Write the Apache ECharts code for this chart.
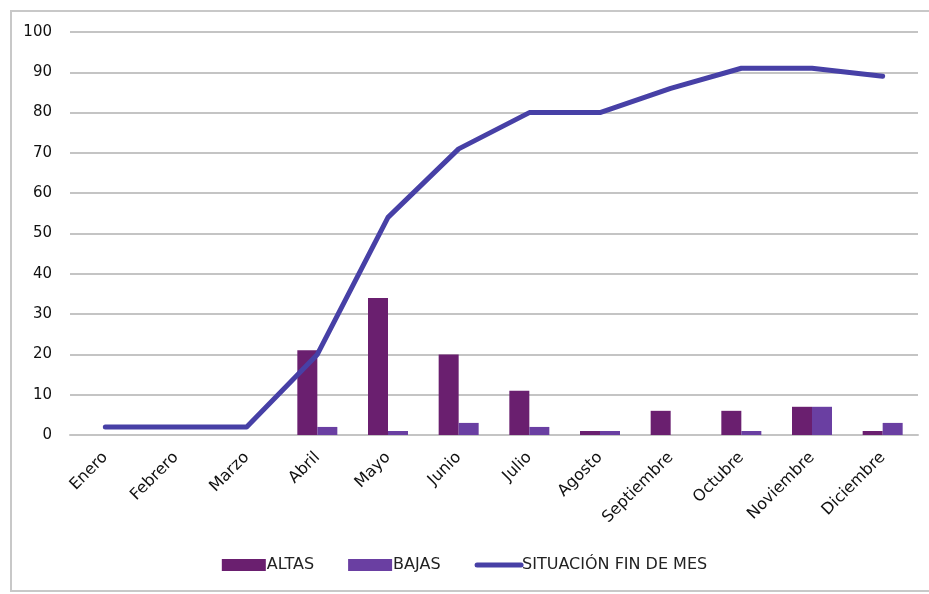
<!DOCTYPE html>
<html>
<head>
<meta charset="utf-8">
<script src="https://cdn.jsdelivr.net/npm/echarts@6/dist/echarts.min.js"></script>
<style>
  html, body { margin: 0; padding: 0; background: #ffffff; }
  #frame { position: absolute; left: 10px; top: 10px; width: 930px; height: 582px; border: 2px solid #c8c8c8; box-sizing: border-box; }
  #chart { position: absolute; left: 0; top: 0; width: 929px; height: 594px; }
</style>
</head>
<body>
<div id="frame"></div>
<div id="chart"></div>
<script>
// Monthly figures
const months = ['Enero', 'Febrero', 'Marzo', 'Abril', 'Mayo', 'Junio', 'Julio', 'Agosto', 'Septiembre', 'Octubre', 'Noviembre', 'Diciembre'];
const altas = [0, 0, 0, 21, 34, 20, 11, 1, 6, 6, 7, 1];
const bajas = [0, 0, 0, 2, 1, 3, 2, 1, 0, 1, 7, 3];
const situacion = [2, 2, 2, 20, 54, 71, 80, 80, 86, 91, 91, 89];
const yTicks = [0, 10, 20, 30, 40, 50, 60, 70, 80, 90, 100];

const font = '"DejaVu Sans", sans-serif';
const lineColor = '#4740a6';
const chart = echarts.init(document.getElementById('chart'));
chart.setOption({
  animation: false,
  backgroundColor: 'transparent',
  textStyle: { fontFamily: font },
  grid: { left: 70, right: 11, top: 32, bottom: 159 },
  legend: {
    bottom: 16,
    left: 'center',
    itemGap: 34,
    itemWidth: 44,
    itemHeight: 12,
    textStyle: { fontFamily: font, fontSize: 16, color: '#222', padding: [0, 0, 0, -4] },
    data: [
      { name: 'ALTAS', icon: 'rect' },
      { name: 'BAJAS', icon: 'rect' },
      {
        name: 'SITUACIÓN FIN DE MES',
        itemStyle: { opacity: 0 },
        lineStyle: { color: lineColor, width: 5, cap: 'round' }
      }
    ]
  },
  xAxis: {
    type: 'category',
    data: months,
    axisLine: { show: true, lineStyle: { color: '#c4c4c4', width: 2 } },
    axisTick: { show: false },
    axisLabel: {
      rotate: 45,
      interval: 0,
      margin: 20,
      fontSize: 16,
      color: '#111',
      fontFamily: font
    }
  },
  yAxis: {
    type: 'value',
    min: yTicks[0],
    max: yTicks[yTicks.length - 1],
    interval: 10,
    axisLine: { show: false },
    axisTick: { show: false },
    splitLine: { lineStyle: { color: '#c4c4c4', width: 2 } },
    axisLabel: { fontSize: 15, color: '#111', margin: 18, fontFamily: font }
  },
  series: [
    {
      name: 'ALTAS',
      type: 'bar',
      data: altas,
      barWidth: 20,
      barGap: '0%',
      itemStyle: { color: '#6a1f6f' }
    },
    {
      name: 'BAJAS',
      type: 'bar',
      data: bajas,
      barWidth: 20,
      itemStyle: { color: '#6a3fa2' }
    },
    {
      name: 'SITUACIÓN FIN DE MES',
      type: 'line',
      data: situacion,
      symbol: 'none',
      lineStyle: { color: lineColor, width: 5, cap: 'round', join: 'round' },
      itemStyle: { color: lineColor },
      z: 5
    }
  ]
});
</script>
</body>
</html>
